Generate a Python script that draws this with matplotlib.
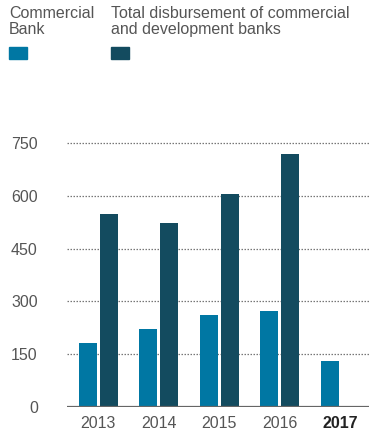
import matplotlib.pyplot as plt
from matplotlib.patches import Rectangle
import numpy as np

years = ['2013', '2014', '2015', '2016', '2017']
commercial = [181, 221, 261, 272, 130]
total = [549, 523, 606, 720, None]
y_ticks = [0, 150, 300, 450, 600, 750]

light = '#0077a3'
dark = '#134b5f'
grey_text = '#555555'

W, H = 369, 433
fig = plt.figure(figsize=(W / 100, H / 100), dpi=100)
plt.rcParams['font.family'] = ['Liberation Sans', 'DejaVu Sans']

# axes placed in pixel terms
left, right, bottom, top = 67, 369, 406.7, 143.3
ax = fig.add_axes([left / W, 1 - bottom / H, (right - left) / W, (bottom - top) / H])

x = np.arange(len(years))
w = 0.3
off = 0.175
ax.bar(x - off, commercial, width=w, color=light, zorder=3)
tot_x = [xi + off for xi, t in zip(x, total) if t is not None]
tot_v = [t for t in total if t is not None]
ax.bar(tot_x, tot_v, width=w, color=dark, zorder=3)

ax.set_xlim(-0.516, 4.476)
ax.set_ylim(0, 750)

for t in y_ticks[1:]:
    ax.axhline(t, color='#777777', lw=0.9, ls=(0, (1.2, 1.2)), zorder=1, clip_on=False)
ax.axhline(0, color='#666666', lw=1.6, zorder=4)

for s in ax.spines.values():
    s.set_visible(False)

ax.set_yticks(y_ticks)
ax.set_yticklabels([str(t) for t in y_ticks], fontsize=11.5, color=grey_text)
ax.tick_params(axis='y', length=0, pad=21)
ax.set_xticks(x)
ax.set_xticklabels(years, fontsize=11.5, color=grey_text)
ax.tick_params(axis='x', length=0, pad=7)
lbl = ax.get_xticklabels()[-1]
lbl.set_fontweight('bold')
lbl.set_color('#222222')

# legend on top
fig.text(9 / W, 1 - 6.5 / H, 'Commercial\nBank', fontsize=11.5, color=grey_text,
         va='top', ha='left', linespacing=1.08)
fig.text(111 / W, 1 - 6.5 / H, 'Total disbursement of commercial\nand development banks',
         fontsize=11.5, color=grey_text, va='top', ha='left', linespacing=1.08)
fig.patches.append(Rectangle((9.3 / W, 1 - 58.7 / H), 17.7 / W, 11.4 / H,
                             transform=fig.transFigure, color=light))
fig.patches.append(Rectangle((111 / W, 1 - 58.7 / H), 18 / W, 11.4 / H,
                             transform=fig.transFigure, color=dark))

fig.savefig('out.png', dpi=100)
